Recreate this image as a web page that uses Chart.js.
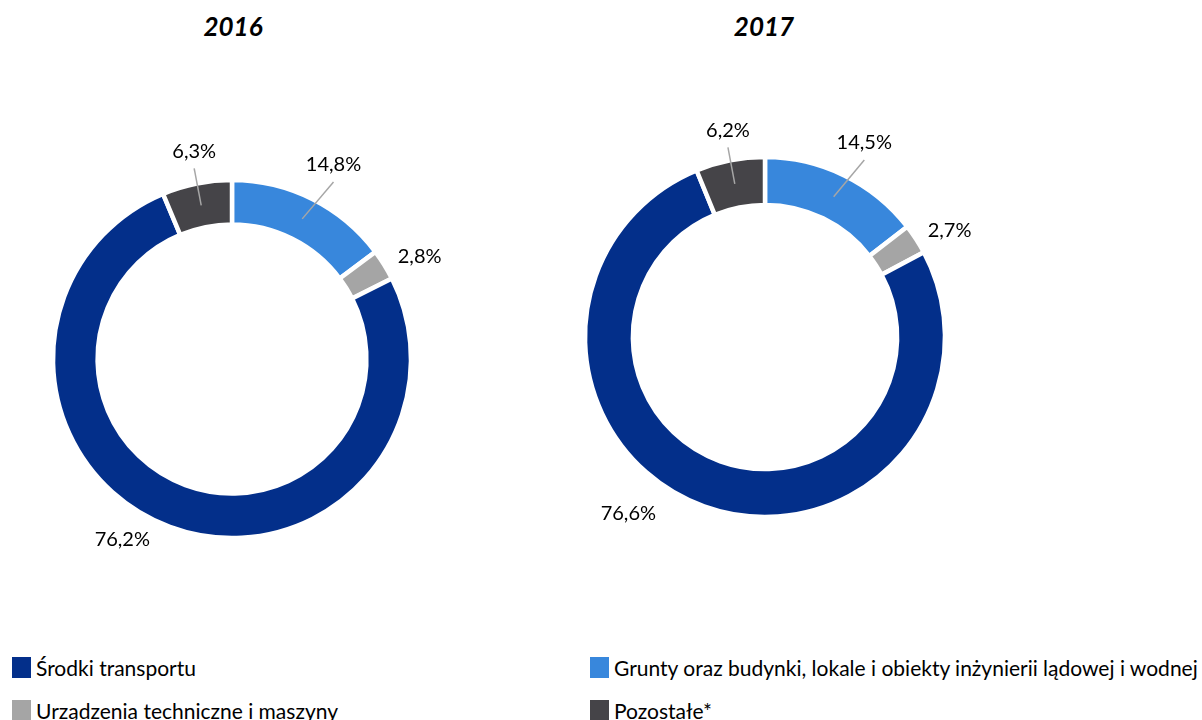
<!DOCTYPE html>
<html lang="pl">
<head>
<meta charset="utf-8">
<title>Struktura środków trwałych 2016–2017</title>
<script src="https://cdn.jsdelivr.net/npm/chart.js@4.4.1/dist/chart.umd.min.js"></script>
<style>
  html, body { margin: 0; padding: 0; background: #fff; overflow: hidden; }
  body { width: 1202px; height: 720px; position: relative; font-family: Lato, "Open Sans", sans-serif; color: #000; }
  .year { position: absolute; top: 10px; width: 200px; text-align: center; font-weight: bold; font-style: italic; font-size: 26px; }
  canvas { position: absolute; }
  .legend-item { position: absolute; display: flex; align-items: center; font-size: 21px; white-space: nowrap; }
  .swatch { width: 19px; height: 21px; margin-right: 5px; flex: none; }
</style>
</head>
<body>
<div id="t0" class="year"></div>
<div id="t1" class="year"></div>
<canvas id="c2016" width="520" height="520" style="left:-28px; top:99px;"></canvas>
<canvas id="c2017" width="520" height="520" style="left:505px; top:77px;"></canvas>
<div id="legend"></div>
<script>
// Slices in clockwise order, starting at 12 o'clock
const sliceLabels = [
  'Grunty oraz budynki, lokale i obiekty inżynierii lądowej i wodnej',
  'Urządzenia techniczne i maszyny',
  'Środki transportu',
  'Pozostałe*'
];
const sliceColors = ['#3887DC', '#A5A5A5', '#032F8A', '#454448'];
const years = ['2016', '2017'];
const values2016 = [14.8, 2.8, 76.2, 6.3];
const values2017 = [14.5, 2.7, 76.6, 6.2];
// Legend reading order (row by row, two columns)
const legendOrder = [2, 0, 1, 3];

const fmt = v => v.toFixed(1).replace('.', ',') + '%';

// Outside labels with grey leader lines for slices near the top
const outsideLabels = {
  id: 'outsideLabels',
  afterDatasetsDraw(chart, args, opts) {
    const ctx = chart.ctx;
    const meta = chart.getDatasetMeta(0);
    const values = chart.data.datasets[0].data;
    ctx.save();
    ctx.font = '20px Lato, "Open Sans", sans-serif';
    ctx.textAlign = 'center';
    ctx.textBaseline = 'middle';
    meta.data.forEach((arc, i) => {
      const p = arc.getProps(['x', 'y', 'startAngle', 'endAngle', 'innerRadius', 'outerRadius'], true);
      const mid = (p.startAngle + p.endAngle) / 2;
      const a = mid + (opts.angleShift[i] || 0) * Math.PI / 180;
      const r = p.outerRadius + opts.gap[i];
      const lx = p.x + Math.cos(a) * r;
      const ly = p.y + Math.sin(a) * r;
      // leader line for labels sitting above the ring
      const fromTop = Math.abs(Math.atan2(Math.cos(mid), -Math.sin(mid)));
      if (fromTop < Math.PI / 4) {
        const rm = (p.innerRadius + p.outerRadius) / 2;
        ctx.strokeStyle = '#A6A6A6';
        ctx.lineWidth = 1.5;
        ctx.beginPath();
        ctx.moveTo(p.x + Math.cos(mid) * rm, p.y + Math.sin(mid) * rm);
        ctx.lineTo(lx, ly + 17);
        ctx.stroke();
      }
      ctx.fillStyle = '#000';
      ctx.fillText(fmt(values[i]), lx, ly);
    });
    ctx.restore();
  }
};

function makeDoughnut(id, values, radius, cutout, labelOpts) {
  return new Chart(document.getElementById(id), {
    type: 'doughnut',
    data: {
      labels: sliceLabels,
      datasets: [{
        data: values,
        backgroundColor: sliceColors,
        borderColor: '#ffffff',
        borderWidth: 4.5,
        hoverOffset: 0
      }]
    },
    options: {
      responsive: false,
      animation: false,
      radius: radius,
      cutout: cutout,
      layout: { padding: 0 },
      plugins: {
        legend: { display: false },
        tooltip: { enabled: false },
        outsideLabels: labelOpts
      }
    },
    plugins: [outsideLabels]
  });
}

makeDoughnut('c2016', values2016, 179, '75.1%', { gap: [40, 35, 32, 32], angleShift: [1, 3, 11, 1] });
makeDoughnut('c2017', values2017, 180, '73.4%', { gap: [38, 33, 43, 30], angleShift: [1, 3, 18, 1] });

// Year headings
const t0 = document.getElementById('t0');
t0.textContent = years[0];
t0.style.left = (233 - 100) + 'px';
const t1 = document.getElementById('t1');
t1.textContent = years[1];
t1.style.left = (764 - 100) + 'px';

// Legend, two columns
const legend = document.getElementById('legend');
legendOrder.forEach((idx, k) => {
  const item = document.createElement('div');
  item.className = 'legend-item';
  item.style.left = (k % 2 === 0 ? 12 : 590) + 'px';
  item.style.top = (k < 2 ? 655 : 698) + 'px';
  const sw = document.createElement('span');
  sw.className = 'swatch';
  sw.style.background = sliceColors[idx];
  const tx = document.createElement('span');
  tx.textContent = sliceLabels[idx];
  item.appendChild(sw);
  item.appendChild(tx);
  legend.appendChild(item);
});
</script>
</body>
</html>
